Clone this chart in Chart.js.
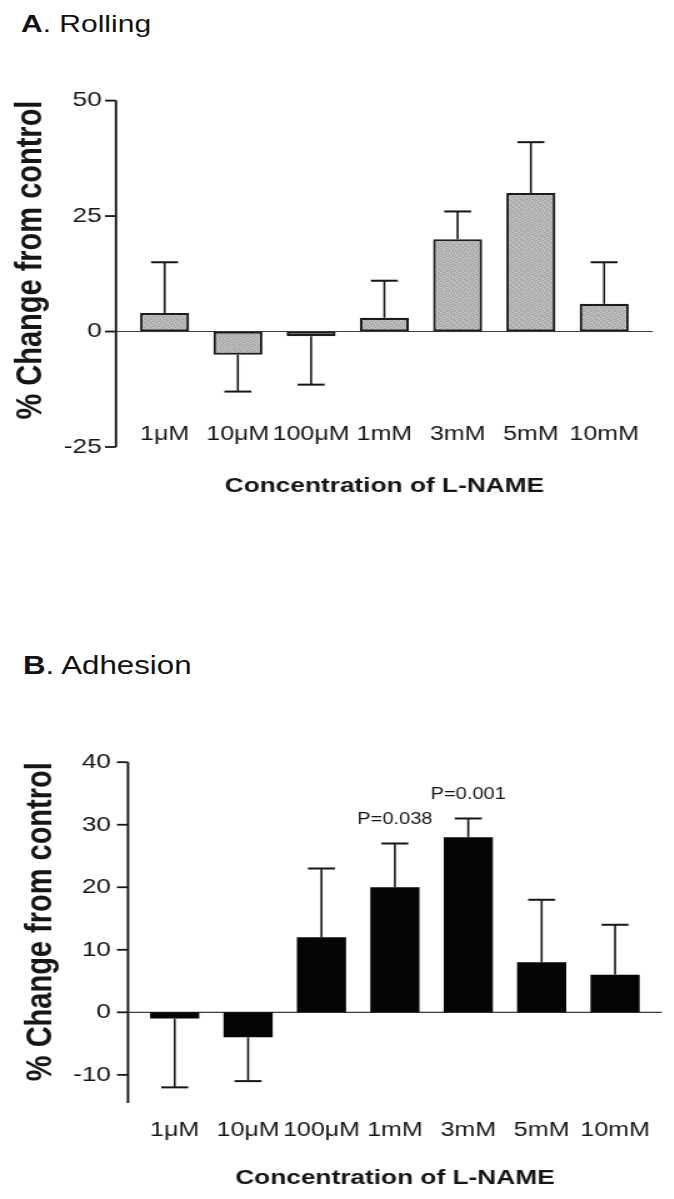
<!DOCTYPE html>
<html>
<head>
<meta charset="utf-8">
<script src="https://cdn.jsdelivr.net/npm/chart.js@4.4.1/dist/chart.umd.min.js"></script>
<style>
  html, body { margin: 0; padding: 0; background: #fff; }
  #page { position: relative; width: 674px; height: 1199px; overflow: hidden; }
  .ttl {
    position: absolute; font-family: 'Liberation Sans', Arial, sans-serif; color: #111;
    line-height: 1; white-space: nowrap; transform: scaleX(1.25); transform-origin: 0 0;
  }
  canvas { position: absolute; left: 0; transform: scaleX(1.25); transform-origin: 0 0; }
</style>
</head>
<body>
<div id="page">
  <div class="ttl" style="left:21px; top:12px; font-size:24px;"><b>A</b>. Rolling</div>
  <canvas id="rollingChart" width="539" height="440" style="top:67px;"></canvas>
  <div class="ttl" style="left:23px; top:653px; font-size:25px;"><b>B</b>. Adhesion</div>
  <canvas id="adhesionChart" width="539" height="470" style="top:728px;"></canvas>
</div>
<script>
// categories + values
const concentrations = ['1μM', '10μM', '100μM', '1mM', '3mM', '5mM', '10mM'];

const rollingValues = [4, -5, -1, 3, 20, 30, 6];
const rollingSem    = [11, 8, 10.5, 8, 6, 11, 9];

const adhesionValues = [-1, -4, 12, 20, 28, 8, 6];
const adhesionSem    = [11, 7, 11, 7, 3, 10, 8];
const adhesionPLabels = ['', '', '', 'P=0.038', 'P=0.001', '', ''];

const FONT = "'Liberation Sans', Arial, sans-serif";
const INK = '#161616';
Chart.defaults.font.family = FONT;
Chart.defaults.color = INK;

// speckled grey fill like the scanned bars
function stipple() {
    const c = document.createElement('canvas');
    c.width = 5; c.height = 5;
    const g = c.getContext('2d');
    g.fillStyle = '#b7b7b7';
    g.fillRect(0, 0, 5, 5);
    g.fillStyle = '#979797';
    [[0, 0], [3, 1], [1, 2], [4, 3], [2, 4]].forEach(p => g.fillRect(p[0], p[1], 1, 1));
    g.fillStyle = '#cfcfcf';
    [[2, 0], [0, 3], [4, 1]].forEach(p => g.fillRect(p[0], p[1], 1, 1));
    return g.createPattern(c, 'repeat');
}

// axis line, tick marks, zero line, one-sided error bars, p values
function makeDecor(values, sem, pLabels, gap, zeroWidth) {
    return {
        id: 'decor',
        beforeDatasetsDraw(chart) {
            const { ctx, chartArea, scales: { y } } = chart;
            const ax = chartArea.left - gap;
            const y0 = y.getPixelForValue(0);
            ctx.save();
            ctx.strokeStyle = '#3a3a3a';
            ctx.lineWidth = zeroWidth;
            ctx.beginPath();
            ctx.moveTo(ax, y0);
            ctx.lineTo(chartArea.right + gap, y0);
            ctx.stroke();
            ctx.restore();
        },
        afterDatasetsDraw(chart) {
            const { ctx, chartArea, scales: { y } } = chart;
            const ax = chartArea.left - gap;
            ctx.save();
            ctx.strokeStyle = INK;
            ctx.lineWidth = 1.9;
            ctx.beginPath();
            ctx.moveTo(ax, y.getPixelForValue(y.max));
            ctx.lineTo(ax, y.getPixelForValue(y.min));
            ctx.stroke();
            ctx.lineWidth = 1.8;
            y.ticks.forEach(t => {
                const py = y.getPixelForValue(t.value);
                ctx.beginPath();
                ctx.moveTo(ax - 8.8, py);
                ctx.lineTo(ax, py);
                ctx.stroke();
            });

            const meta = chart.getDatasetMeta(0);
            meta.data.forEach((bar, i) => {
                const v = values[i];
                const end = v + (v < 0 ? -sem[i] : sem[i]);
                const pv = y.getPixelForValue(v);
                const pe = y.getPixelForValue(end);
                ctx.lineWidth = 1.6;
                ctx.beginPath();
                ctx.moveTo(bar.x, pv);
                ctx.lineTo(bar.x, pe);
                ctx.stroke();
                ctx.lineWidth = 2;
                ctx.beginPath();
                ctx.moveTo(bar.x - 10.8, pe);
                ctx.lineTo(bar.x + 10.8, pe);
                ctx.stroke();
                if (pLabels && pLabels[i]) {
                    ctx.fillStyle = INK;
                    ctx.font = '16px ' + FONT;
                    ctx.textAlign = 'center';
                    ctx.textBaseline = 'middle';
                    ctx.fillText(pLabels[i], bar.x, pe - 24);
                }
            });
            ctx.restore();
        }
    };
}

function buildChart(id, cfg) {
    const ctx = document.getElementById(id).getContext('2d');
    return new Chart(ctx, {
        type: 'bar',
        data: {
            labels: concentrations,
            datasets: [{
                data: cfg.values,
                backgroundColor: cfg.fill,
                borderColor: cfg.border,
                borderWidth: cfg.borderWidth,
                borderSkipped: false,
                barPercentage: 0.67,
                categoryPercentage: 1.0
            }]
        },
        options: {
            responsive: false,
            animation: false,
            layout: { padding: { top: 20, right: cfg.padRight, bottom: 0, left: 0 } },
            plugins: { legend: { display: false }, tooltip: { enabled: false } },
            scales: {
                x: {
                    offset: true,
                    grid: { display: false, drawTicks: false },
                    border: { display: false },
                    ticks: {
                        mirror: cfg.mirror, padding: cfg.labelPad, font: { size: 20 }, color: INK,
                        maxRotation: 0, autoSkip: false
                    },
                    title: {
                        display: true, text: 'Concentration of L-NAME', color: INK,
                        font: { size: 21, weight: 'bold' }, padding: { top: 0, bottom: cfg.titlePad }
                    },
                    afterFit: s => { s.height = cfg.xHeight; }
                },
                y: {
                    min: cfg.min, max: cfg.max,
                    grid: { display: false, drawTicks: false },
                    border: { display: false },
                    ticks: { stepSize: cfg.step, includeBounds: false, padding: cfg.tickPad, font: { size: 21 }, color: INK },
                    title: {
                        display: true, text: '% Change from control', color: INK, align: 'end',
                        font: { size: 29, weight: 'bold' }, padding: { top: cfg.yTitlePad, bottom: 0 }
                    },
                    afterFit: s => { s.width = cfg.yWidth; }
                }
            }
        },
        plugins: [makeDecor(cfg.values, cfg.sem, cfg.pLabels, cfg.gap, cfg.zeroWidth)]
    });
}

// rolling: category labels sit inside the plot, just above the -25 end of the axis
buildChart('rollingChart', {
    values: rollingValues, sem: rollingSem, pLabels: null,
    fill: stipple(), border: '#1c1c1c', borderWidth: 2.2,
    min: -25, max: 50, step: 25,
    yWidth: 102.4, padRight: 26.4, gap: 9.6, tickPad: 21, yTitlePad: 7.4,
    xHeight: 60, mirror: true, labelPad: 1, titlePad: 8.4, zeroWidth: 1
});

buildChart('adhesionChart', {
    values: adhesionValues, sem: adhesionSem, pLabels: adhesionPLabels,
    fill: '#050505', border: '#050505', borderWidth: 0,
    min: -14.5, max: 40, step: 10,
    yWidth: 110.4, padRight: 17.6, gap: 8, tickPad: 21.6, yTitlePad: 15.4,
    xHeight: 95, mirror: false, labelPad: 15, titlePad: 7.4, zeroWidth: 1.2
});
</script>
</body>
</html>
